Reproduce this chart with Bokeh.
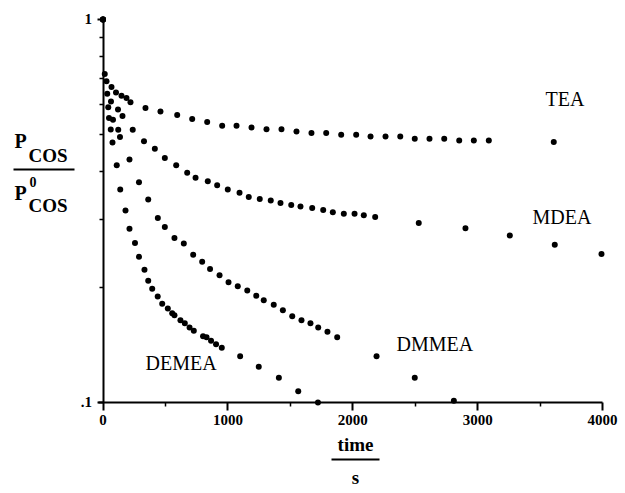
import math
from bokeh.plotting import figure
from bokeh.models import Range1d, FixedTicker, Label, BoxAnnotation
from bokeh.embed import file_html
from bokeh.resources import INLINE

# ---------------- data (time in s, P_COS / P0_COS) ----------------
tea_t = [0, 14, 28, 68, 104, 148, 188, 220, 340, 460, 594, 714, 834, 954, 1069, 1189,
         1309, 1429, 1549, 1669, 1787, 1907, 2027, 2142, 2262, 2380, 2496, 2614, 2732,
         2852, 2969, 3089, 3609]
tea_p = [1.0, 0.721, 0.690, 0.666, 0.645, 0.632, 0.624, 0.608, 0.587, 0.575, 0.563,
         0.550, 0.540, 0.528, 0.528, 0.522, 0.517, 0.517, 0.510, 0.505, 0.505, 0.500,
         0.500, 0.495, 0.495, 0.495, 0.488, 0.488, 0.488, 0.483, 0.483, 0.483, 0.479]

mdea_t = [0, 34, 64, 120, 156, 238, 328, 415, 495, 586, 674, 741, 839, 914, 999, 1093,
          1167, 1255, 1343, 1421, 1507, 1581, 1675, 1763, 1840, 1928, 2014, 2088, 2179,
          2528, 2902, 3257, 3617, 3991]
mdea_p = [1.0, 0.640, 0.611, 0.582, 0.560, 0.515, 0.481, 0.460, 0.435, 0.416, 0.398,
          0.386, 0.378, 0.369, 0.360, 0.353, 0.344, 0.340, 0.337, 0.332, 0.328, 0.325,
          0.322, 0.318, 0.314, 0.311, 0.311, 0.308, 0.305, 0.294, 0.285, 0.273, 0.258,
          0.244]

dmmea_t = [0, 42, 80, 122, 136, 212, 288, 362, 439, 495, 572, 647, 722, 794, 857, 933,
           1005, 1079, 1155, 1227, 1287, 1367, 1440, 1515, 1589, 1661, 1723, 1797, 1875,
           2190, 2496, 2809]
dmmea_p = [1.0, 0.590, 0.547, 0.515, 0.493, 0.431, 0.376, 0.339, 0.303, 0.287, 0.269,
           0.260, 0.243, 0.233, 0.223, 0.215, 0.206, 0.201, 0.196, 0.190, 0.185, 0.180,
           0.174, 0.168, 0.164, 0.161, 0.157, 0.153, 0.148, 0.132, 0.116, 0.101]

demea_t = [0, 48, 62, 76, 110, 138, 180, 212, 256, 288, 332, 362, 394, 438, 474, 519,
           554, 572, 620, 655, 693, 727, 801, 829, 865, 905, 951, 1098, 1247, 1408, 1563,
           1721]
demea_p = [1.0, 0.553, 0.516, 0.477, 0.416, 0.360, 0.317, 0.284, 0.261, 0.240, 0.222,
           0.208, 0.198, 0.189, 0.181, 0.176, 0.171, 0.169, 0.164, 0.161, 0.157, 0.154,
           0.149, 0.148, 0.145, 0.142, 0.139, 0.132, 0.124, 0.116, 0.107, 0.100]

series_names = ["TEA", "MDEA", "DMMEA", "DEMEA"]
x_ticks = [0, 1000, 2000, 3000, 4000]
x_minor = [500, 1500, 2500, 3500]
y_ticks = [0.1, 1.0]
y_minor = [0.2, 0.3, 0.4, 0.5, 0.6, 0.7, 0.8, 0.9]

# ---------------- layout: the frame fills the canvas, axes are fixed inside ----------
W, H = 625, 493
X0, X1 = -820.7, 4183.3
Y0, Y1 = 0.05785, 1.1209
TXT_DY = -8  # text baseline correction in pixels


def cx(px):
    return X0 + px / W * (X1 - X0)


def cy(py):
    l0, l1 = math.log10(Y0), math.log10(Y1)
    return 10 ** (l1 - py / H * (l1 - l0))


p = figure(width=W, height=H, y_axis_type="log", title=None,
           x_range=Range1d(X0, X1), y_range=Range1d(Y0, Y1),
           min_border=0, min_border_left=0, min_border_right=0, min_border_top=0,
           min_border_bottom=0, output_backend="svg", toolbar_location=None)
p.outline_line_color = None
p.xgrid.visible = False
p.ygrid.visible = False
p.background_fill_color = "white"
p.border_fill_color = "white"

for t, v in [(tea_t, tea_p), (mdea_t, mdea_p), (dmmea_t, dmmea_p), (demea_t, demea_p)]:
    p.scatter(t, v, marker="circle", size=6, fill_color="black", line_color=None)

FONT = "Liberation Serif"

xa = p.xaxis[0]
xa.fixed_location = 0.1
xa.ticker = FixedTicker(ticks=x_ticks, minor_ticks=x_minor)
xa.bounds = (-40, 4000)
xa.major_tick_out = 8
xa.major_tick_in = 0
xa.minor_tick_out = 4
xa.minor_tick_in = 0
xa.major_label_standoff = 5

ya = p.yaxis[0]
ya.fixed_location = 0
ya.ticker = FixedTicker(ticks=y_ticks, minor_ticks=y_minor)
ya.bounds = (0.1, 1.0)
ya.major_label_overrides = {0.1: ".1", 1.0: "1"}
ya.major_tick_out = 6
ya.major_tick_in = 0
ya.minor_tick_out = 4
ya.minor_tick_in = 0
ya.major_label_standoff = 5

for ax in (xa, ya):
    ax.axis_line_width = 2
    ax.axis_line_color = "black"
    ax.major_tick_line_width = 2
    ax.major_tick_line_color = "black"
    ax.minor_tick_line_width = 1.5
    ax.minor_tick_line_color = "black"
    ax.major_label_text_font = FONT
    ax.major_label_text_font_style = "bold"
    ax.major_label_text_font_size = "15px"
    ax.major_label_text_color = "black"


def lab(text, px, py, size, align="left", style="bold"):
    p.add_layout(Label(x=cx(px), y=cy(py + TXT_DY), text=text, text_font=FONT,
                       text_font_size=size, text_font_style=style, text_color="black",
                       text_baseline="alphabetic", text_align=align))


def bar(x_left, x_right, y_mid):
    p.add_layout(BoxAnnotation(left=cx(x_left), right=cx(x_right), bottom=cy(y_mid + 1),
                               top=cy(y_mid - 1), fill_color="black", fill_alpha=1.0,
                               line_color=None, level="overlay"))


# series names
name_pos = [(545, 106), (532, 224), (396, 351), (145, 370)]
for name, (px, py) in zip(series_names, name_pos):
    lab(name, px, py, "20px", style="normal")

# y-axis label as a fraction  P_COS / P0_COS
lab("P", 14, 148, "20px")
lab("COS", 28, 163, "19px")
bar(13, 74, 169)
lab("P", 14, 200, "20px")
lab("0", 29, 189, "14px")
lab("COS", 28, 213, "19px")

# x-axis label as a fraction  time / s
lab("time", 355, 452, "19px", align="center")
bar(331, 379, 459)
lab("s", 355, 485, "19px", align="center")

open("out.html", "w").write(file_html(p, INLINE))
